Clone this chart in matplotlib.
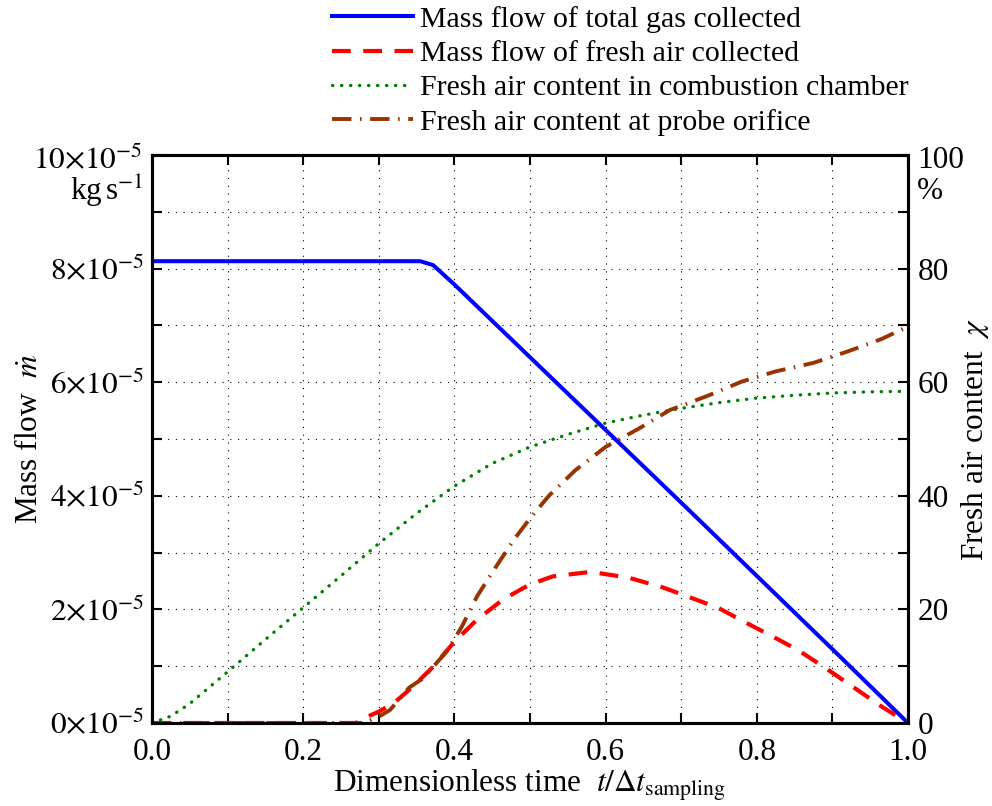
import numpy as np
import matplotlib
matplotlib.use("Agg")
import matplotlib.pyplot as plt
from matplotlib.ticker import MultipleLocator, FixedLocator, FuncFormatter

plt.rcParams["font.family"] = ["Liberation Serif", "DejaVu Serif"]
plt.rcParams["mathtext.fontset"] = "stix"
plt.rcParams["font.size"] = 22.5

# mass flow of total gas collected (1e-5 kg/s)
t_total = [0.0, 0.2, 0.355, 0.372, 0.4, 0.5, 0.6, 0.7, 0.8, 0.9, 1.0]
m_total = [8.13, 8.13, 8.13, 8.06, 7.72, 6.44, 5.16, 3.88, 2.59, 1.30, 0.0]

# mass flow of fresh air collected (1e-5 kg/s)
t_fresh = [0.0, 0.27, 0.28, 0.30, 0.32, 0.345, 0.372, 0.4, 0.43, 0.465, 0.5, 0.53,
           0.58, 0.63, 0.675, 0.71, 0.75, 0.785, 0.82, 0.855, 0.895, 0.93, 0.965, 1.0]
m_fresh = [0.0, 0.0, 0.08, 0.2, 0.35, 0.64, 0.99, 1.43, 1.82, 2.18, 2.44, 2.58,
           2.66, 2.56, 2.39, 2.22, 2.02, 1.77, 1.53, 1.28, 0.93, 0.61, 0.29, 0.0]

# fresh air content in combustion chamber (%)
t_chamber = [0.0, 0.025, 0.05, 0.075, 0.1, 0.15, 0.2, 0.25, 0.3, 0.35, 0.4, 0.45,
             0.5, 0.55, 0.6, 0.65, 0.7, 0.75, 0.8, 0.85, 0.9, 0.95, 1.0]
chi_chamber = [0.0, 1.2, 3.4, 6.2, 9.0, 14.7, 20.3, 25.9, 31.6, 36.9, 41.7, 45.7,
               48.6, 50.8, 52.8, 54.2, 55.4, 56.4, 57.2, 57.7, 58.1, 58.3, 58.4]

# fresh air content at probe orifice (%)
t_probe = [0.0, 0.28, 0.30, 0.315, 0.34, 0.36, 0.372, 0.39, 0.41, 0.43, 0.455, 0.48,
           0.5, 0.525, 0.56, 0.6, 0.645, 0.685, 0.735, 0.78, 0.825, 0.875, 0.92, 0.965, 1.0]
chi_probe = [0.0, 0.0, 1.1, 2.3, 6.2, 8.0, 9.9, 12.6, 17.0, 22.3, 27.5, 32.5,
             36.0, 40.0, 44.5, 48.6, 51.9, 55.1, 57.6, 60.1, 61.9, 63.4, 65.4, 67.6, 69.8]

fig = plt.figure(figsize=(9.92, 8.06), dpi=100)
ax = fig.add_axes([0.1532, 0.1030, 0.7621, 0.7047])
ax2 = ax.twinx()

l1, = ax.plot(t_total, m_total, color="#0000ff", lw=2.9, solid_joinstyle="round")
l2, = ax.plot(t_fresh, m_fresh, color="#ff0000", lw=3.0, dashes=(4.5, 3.0))
l3, = ax2.plot(t_chamber, chi_chamber, color="#008000", lw=2.4,
               dashes=(0.1, 2.6), dash_capstyle="round")
l4, = ax2.plot(t_probe, chi_probe, color="#993300", lw=2.8,
               dashes=(5, 2.2, 0.4, 2.2))

ax.set_xlim(0, 1)
ax.set_ylim(0, 10)
ax2.set_ylim(0, 100)

ax.xaxis.set_major_locator(MultipleLocator(0.2))
ax.xaxis.set_minor_locator(MultipleLocator(0.1))
ax.xaxis.set_major_formatter(FuncFormatter(lambda v, p: f"{v:.1f}"))
ax.yaxis.set_major_locator(FixedLocator([0, 2, 4, 6, 8]))
ax.yaxis.set_minor_locator(MultipleLocator(1))
ax.yaxis.set_major_formatter(FuncFormatter(lambda v, p: r"$%d{\times}10^{-5}$" % round(v)))
ax2.yaxis.set_major_locator(FixedLocator([0, 20, 40, 60, 80]))
ax2.yaxis.set_minor_locator(MultipleLocator(10))

for a in (ax, ax2):
    a.tick_params(which="both", direction="in", length=7, width=1.5, top=True)
    for s in a.spines.values():
        s.set_linewidth(2.2)
ax.tick_params(axis="y", which="both", right=False, pad=6)
ax.tick_params(axis="x", which="both", pad=11)
ax.tick_params(axis="x", which="both", top=True, labeltop=False)
ax2.tick_params(axis="y", which="both", left=False, pad=7)

ax.grid(True, which="both", color="black", lw=0.8, linestyle=(0, (1, 6)))

# top labels with units
ax.text(-0.012, 0.99, r"$10{\times}10^{-5}$", transform=ax.transAxes,
        ha="right", va="center")
ax.text(-0.012, 0.935, r"kg$\,$s$^{-1}$", transform=ax.transAxes,
        ha="right", va="center")
ax2.text(1.012, 0.99, "100", transform=ax2.transAxes, ha="left", va="center")
ax2.text(1.012, 0.935, "%", transform=ax2.transAxes, ha="left", va="center")

ax.set_xlabel(r"Dimensionless time  $t/\Delta t_{\mathrm{sampling}}$", labelpad=0)
ax.set_ylabel(r"Mass flow  $\dot{m}$", labelpad=4)
ax2.set_ylabel(r"Fresh air content  $\chi$", labelpad=7)

fig.legend([l1, l2, l3, l4],
           ["Mass flow of total gas collected",
            "Mass flow of fresh air collected",
            "Fresh air content in combustion chamber",
            "Fresh air content at probe orifice"],
           loc="upper left", bbox_to_anchor=(0.335, 0.993), frameon=False,
           fontsize=21.5, handlelength=2.7, handletextpad=0.25, labelspacing=0.25,
           borderpad=0.0, borderaxespad=0.0)

fig.savefig("out.png", dpi=100)
